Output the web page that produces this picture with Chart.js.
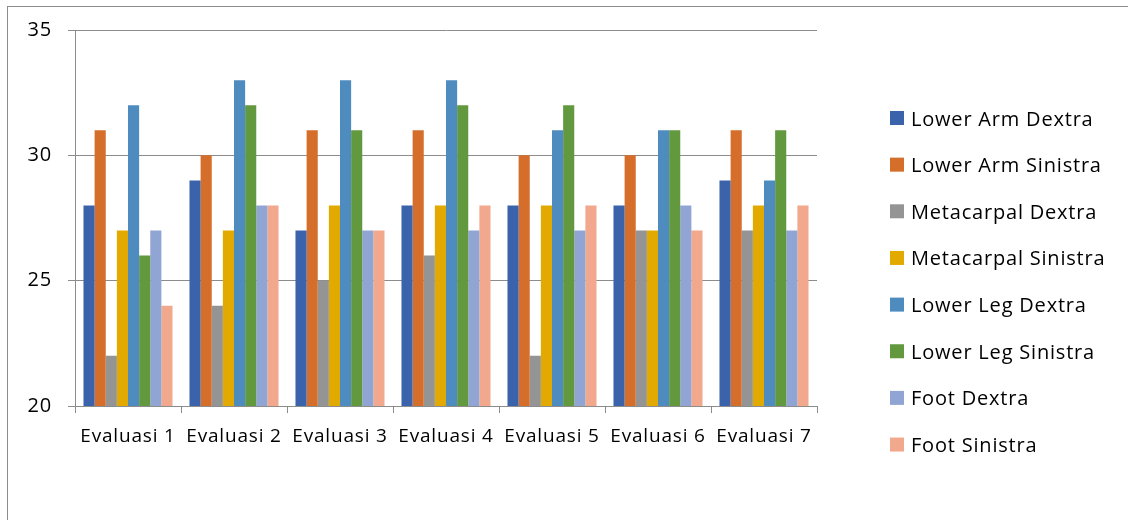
<!DOCTYPE html>
<html>
<head>
<meta charset="utf-8">
<script src="https://cdn.jsdelivr.net/npm/chart.js@4/dist/chart.umd.min.js"></script>
<style>
  html, body { margin: 0; padding: 0; background: #fff; }
  #wrap { position: relative; width: 1128px; height: 520px; overflow: hidden; }
  #frame { position: absolute; left: 7px; top: 6px; width: 1200px; height: 600px;
           border: 1px solid #8c8c8c; box-sizing: border-box; }
  canvas { position: absolute; left: 0; top: 0; }
</style>
</head>
<body>
<div id="wrap">
  <div id="frame"></div>
  <canvas id="c" width="1128" height="520"></canvas>
</div>
<script>
const categories = ['Evaluasi 1', 'Evaluasi 2', 'Evaluasi 3', 'Evaluasi 4', 'Evaluasi 5', 'Evaluasi 6', 'Evaluasi 7'];

const lowerArmDextra     = [28, 29, 27, 28, 28, 28, 29];
const lowerArmSinistra   = [31, 30, 31, 31, 30, 30, 31];
const metacarpalDextra   = [22, 24, 25, 26, 22, 27, 27];
const metacarpalSinistra = [27, 27, 28, 28, 28, 27, 28];
const lowerLegDextra     = [32, 33, 33, 33, 31, 31, 29];
const lowerLegSinistra   = [26, 32, 31, 32, 32, 31, 31];
const footDextra         = [27, 28, 27, 27, 27, 28, 27];
const footSinistra       = [24, 28, 27, 28, 28, 27, 28];

const yTicks = [20, 25, 30, 35];

const series = [
  ['Lower Arm Dextra',    lowerArmDextra,     '#3B63AC'],
  ['Lower Arm Sinistra',  lowerArmSinistra,   '#D56D2B'],
  ['Metacarpal Dextra',   metacarpalDextra,   '#949494'],
  ['Metacarpal Sinistra', metacarpalSinistra, '#E2AA00'],
  ['Lower Leg Dextra',    lowerLegDextra,     '#4E8BBF'],
  ['Lower Leg Sinistra',  lowerLegSinistra,   '#62993E'],
  ['Foot Dextra',         footDextra,         '#91A5D4'],
  ['Foot Sinistra',       footSinistra,       '#F1A88C']
];

const FONT = '"Open Sans", "DejaVu Sans", sans-serif';
const axisColor = '#8c8c8c';
const SPACING = '0.8px';

// Slightly tracked-out text for every label on the canvas
const tracking = {
  id: 'tracking',
  beforeDraw(chart) { chart.ctx.letterSpacing = SPACING; }
};

// Legend drawn on the right, one row per dataset
const sideLegend = {
  id: 'sideLegend',
  afterDraw(chart) {
    const ctx = chart.ctx;
    ctx.save();
    ctx.letterSpacing = SPACING;
    ctx.font = '20px ' + FONT;
    ctx.textBaseline = 'alphabetic';
    ctx.textAlign = 'left';
    chart.data.datasets.forEach((ds, i) => {
      const base = 125.5 + i * 46.65;
      ctx.fillStyle = ds.backgroundColor;
      ctx.fillRect(890, base - 14.5, 14, 14);
      ctx.fillStyle = '#000';
      ctx.fillText(ds.label, 911, base);
    });
    ctx.restore();
  }
};

new Chart(document.getElementById('c'), {
  type: 'bar',
  data: {
    labels: categories,
    datasets: series.map(([label, data, color]) => ({
      label, data, backgroundColor: color, borderWidth: 0
    }))
  },
  options: {
    responsive: false,
    animation: false,
    devicePixelRatio: 1,
    layout: { padding: { left: 15, top: 30, right: 311, bottom: 74 } },
    datasets: { bar: { categoryPercentage: 0.84, barPercentage: 1 } },
    plugins: { legend: { display: false }, tooltip: { enabled: false } },
    scales: {
      x: {
        afterFit(s) { s.height = 40; },
        grid: { display: true, drawOnChartArea: false, drawTicks: true, tickLength: 7, color: axisColor, offset: true },
        border: { display: true, color: axisColor, width: 1 },
        ticks: { color: '#000', font: { family: FONT, size: 19 }, padding: 12, maxRotation: 0 }
      },
      y: {
        min: 20, max: 35,
        afterFit(s) { s.width = 60; },
        afterBuildTicks(s) { s.ticks = yTicks.map(v => ({ value: v })); },
        grid: { color: axisColor, lineWidth: 1, tickLength: 7 },
        border: { display: true, color: axisColor, width: 1 },
        ticks: { color: '#000', font: { family: FONT, size: 20 }, padding: 16 }
      }
    }
  },
  plugins: [tracking, sideLegend]
});
</script>
</body>
</html>
